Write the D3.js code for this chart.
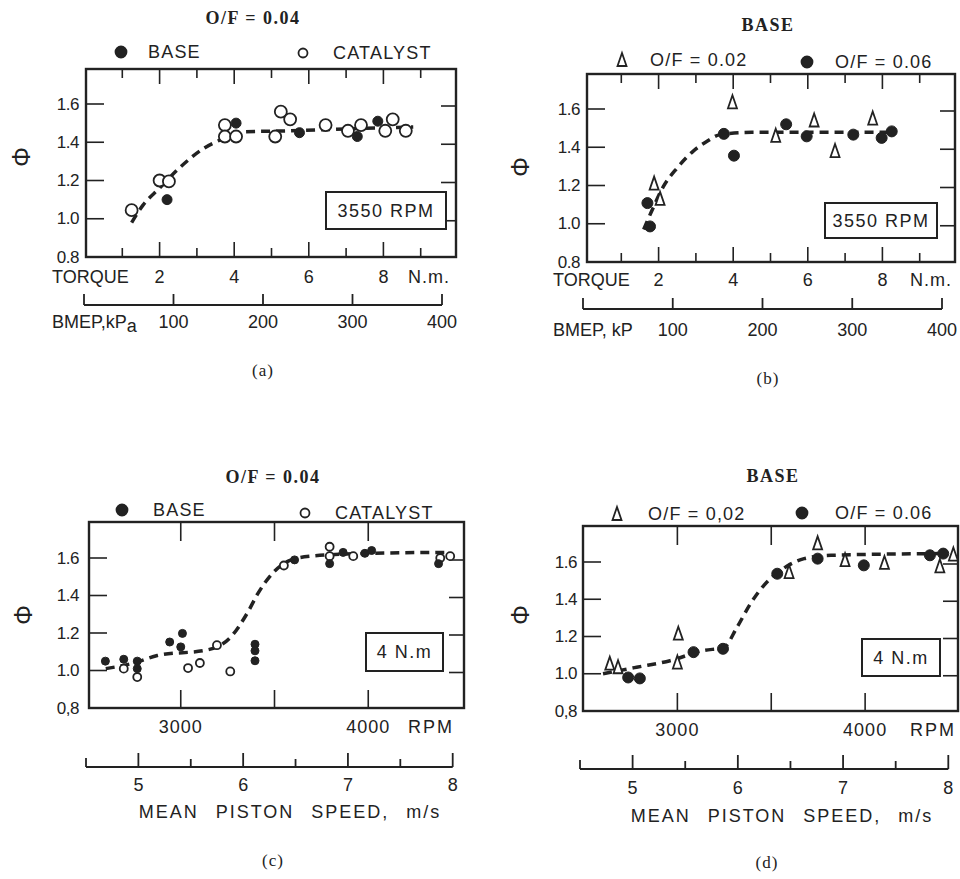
<!DOCTYPE html>
<html>
<head>
<meta charset="utf-8">
<script src="https://cdn.jsdelivr.net/npm/d3@7"></script>
<style>
  body { margin: 0; background: #fff; }
  text { font-family: "Liberation Sans", Arial, sans-serif; fill: #222; }
  .serif { font-family: "Liberation Serif", "Times New Roman", serif; }
</style>
</head>
<body>
<svg width="960" height="879"></svg>
<script>
// ---- data ----
var phiTicks = [0.8, 1.0, 1.2, 1.4, 1.6];
var phiLabelsAB = ["0.8", "1.0", "1.2", "1.4", "1.6"];
var phiLabelsCD = ["0,8", "1.0", "1.2", "1.4", "1.6"];
var torqueTicks = [1, 2, 3, 4, 5, 6, 7, 8, 9];
var torqueLabels = [2, 4, 6, 8];
var bmepTicks = [0, 100, 200, 300, 400];
var bmepLabels = [100, 200, 300, 400];
var rpmTicks = [3000, 3500, 4000];
var rpmLabels = [3000, 4000];
var speedTicks = [4.5, 5, 5.5, 6, 6.5, 7, 7.5, 8];
var speedLabels = [5, 6, 7, 8];

// (a) torque, phi at 3550 rpm, O/F = 0.04
var aBase = [[2.2, 1.10], [4.05, 1.50], [5.75, 1.45], [7.3, 1.43], [7.85, 1.51]];
var aCatalyst = [[1.25, 1.045], [2.0, 1.20], [2.25, 1.195], [3.75, 1.49], [3.75, 1.43], [4.05, 1.43],
  [5.1, 1.43], [5.25, 1.56], [5.5, 1.52], [6.45, 1.49], [7.05, 1.46], [7.4, 1.49],
  [8.05, 1.46], [8.25, 1.52], [8.6, 1.46]];
var aCurve = [[1.25, 0.98], [1.55, 1.07], [2.0, 1.16], [2.5, 1.26], [3.2, 1.37], [3.6, 1.41],
  [4.3, 1.455], [5.5, 1.46], [7.0, 1.47], [8.8, 1.48]];

// (b) torque, phi at 3550 rpm, base engine
var bOF02 = [[1.88, 1.21], [2.04, 1.13], [3.98, 1.635], [5.14, 1.46], [6.17, 1.54], [6.73, 1.38], [7.74, 1.55]];
var bOF06 = [[1.70, 1.108], [1.77, 0.986], [3.75, 1.47], [4.02, 1.356], [5.42, 1.52], [5.97, 1.457],
  [7.22, 1.466], [7.98, 1.449], [8.25, 1.483]];
var bCurve = [[1.6, 0.97], [1.8, 1.06], [2.13, 1.195], [2.49, 1.29], [2.93, 1.38], [3.29, 1.43],
  [3.65, 1.466], [4.5, 1.478], [6.0, 1.478], [7.0, 1.478], [8.3, 1.478]];

// (c) rpm, phi at 4 N.m, O/F = 0.04
var cBase = [[2598, 1.05], [2696, 1.06], [2768, 1.05], [2768, 1.01], [2941, 1.152], [3009, 1.198],
  [3000, 1.126], [3396, 1.14], [3396, 1.105], [3396, 1.052], [3607, 1.59], [3794, 1.57],
  [3866, 1.63], [3982, 1.625], [4018, 1.64], [4375, 1.57]];
var cCatalyst = [[2696, 1.01], [2768, 0.965], [3039, 1.013], [3102, 1.04], [3193, 1.135], [3264, 0.995],
  [3550, 1.56], [3794, 1.66], [3794, 1.61], [3920, 1.61], [4384, 1.60], [4437, 1.61]];
var cCurve = [[2600, 1.01], [2750, 1.04], [2875, 1.08], [3143, 1.11], [3268, 1.18], [3357, 1.31],
  [3411, 1.41], [3491, 1.52], [3589, 1.59], [3696, 1.61], [4000, 1.625], [4410, 1.63]];

// (d) rpm, phi at 4 N.m, base engine
var dOF02 = [[2640, 1.054], [2684, 1.035], [3005, 1.215], [3000, 1.06], [3595, 1.546], [3747, 1.70],
  [3893, 1.61], [4103, 1.595], [4398, 1.577], [4470, 1.64]];
var dOF06 = [[2738, 0.98], [2800, 0.975], [3086, 1.116], [3243, 1.134], [3532, 1.537], [3747, 1.618],
  [3993, 1.582], [4345, 1.636], [4416, 1.645]];
var dCurve = [[2604, 1.0], [2783, 1.035], [2961, 1.07], [3139, 1.125], [3246, 1.14], [3318, 1.25],
  [3389, 1.376], [3461, 1.475], [3550, 1.555], [3675, 1.618], [3818, 1.636], [4389, 1.645]];

var ink = "#222";
var svg = d3.select("svg");

var triPath = "M0,-7L4.5,6L-4.5,6Z";

function txt(g, x, y, s, size, anchor, cls) {
  return g.append("text")
    .attr("x", x).attr("y", y)
    .attr("dominant-baseline", "central")
    .attr("text-anchor", anchor || "middle")
    .attr("class", cls || null)
    .style("font-size", size + "px")
    .text(s);
}

function dots(g, data, x, y, kind, r) {
  if (kind == "tri") {
    g.selectAll(null).data(data).enter().append("path")
      .attr("d", triPath)
      .attr("transform", function(d) { return "translate(" + x(d[0]) + "," + y(d[1]) + ")"; })
      .attr("fill", "#fff").attr("stroke", ink).attr("stroke-width", 1.8);
  } else {
    g.selectAll(null).data(data).enter().append("circle")
      .attr("cx", function(d) { return x(d[0]); })
      .attr("cy", function(d) { return y(d[1]); })
      .attr("r", r)
      .attr("fill", kind == "open" ? "#fff" : ink)
      .attr("stroke", ink).attr("stroke-width", kind == "open" ? 1.8 : 1);
  }
}

function legendMark(g, x, y, kind) {
  if (kind == "tri") g.append("path").attr("d", triPath).attr("transform", "translate(" + x + "," + y + ")")
    .attr("fill", "none").attr("stroke", ink).attr("stroke-width", 1.8);
  else g.append("circle").attr("cx", x).attr("cy", y).attr("r", kind == "open" ? 4.5 : 5.5)
    .attr("fill", kind == "open" ? "#fff" : ink).attr("stroke", ink).attr("stroke-width", 1.8);
}

// common frame, phi axis, curve, label box
function frame(g, p, x, y) {
  g.append("rect").attr("x", p.box[0]).attr("y", p.box[1])
    .attr("width", p.box[2] - p.box[0]).attr("height", p.box[3] - p.box[1])
    .attr("fill", "none").attr("stroke", ink).attr("stroke-width", 2.4);

  phiTicks.slice(1).forEach(function(t) {
    g.append("line").attr("x1", p.box[0]).attr("x2", p.box[0] + 18)
      .attr("y1", y(t)).attr("y2", y(t)).attr("stroke", ink).attr("stroke-width", 1.6);
    g.append("line").attr("x1", p.box[2] - 15).attr("x2", p.box[2])
      .attr("y1", y(t) + 2).attr("y2", y(t) + 2).attr("stroke", ink).attr("stroke-width", 1.6);
  });
  phiTicks.forEach(function(t, i) {
    txt(g, p.ylabX, y(t), p.phiLabels[i], 17, "end").style("letter-spacing", "-0.5px");
  });

  txt(g, p.phi[0], p.phi[1], "Φ", 25).attr("transform", "rotate(90," + p.phi[0] + "," + p.phi[1] + ")");

  var line = d3.line().curve(d3.curveMonotoneX)
    .x(function(d) { return x(d[0]); }).y(function(d) { return y(d[1]); });
  g.append("path").datum(p.curve).attr("d", line)
    .attr("fill", "none").attr("stroke", ink).attr("stroke-width", 3.5)
    .attr("stroke-dasharray", "9,6");

  var b = p.label;
  g.append("rect").attr("x", b[0]).attr("y", b[1]).attr("width", b[2] - b[0]).attr("height", b[3] - b[1])
    .attr("fill", "#fff").attr("stroke", ink).attr("stroke-width", 2);
  txt(g, (b[0] + b[2]) / 2, (b[1] + b[3]) / 2, b[4], 18).style("letter-spacing", "1.5px");

  txt(g, p.title[0], p.title[1], p.title[2], 18, "middle", "serif").style("font-weight", "bold").style("letter-spacing", "1.5px");
  txt(g, p.caption[0], p.caption[1], p.caption[2], 17, "middle", "serif").style("letter-spacing", "1px");

  p.legend.forEach(function(l) {
    legendMark(g, l[0], l[1], l[2]);
    txt(g, l[3], l[1], l[4], 18, "start").style("letter-spacing", "1.2px");
  });
}

function torquePanel(p) {
  var g = svg.append("g");
  var x = d3.scaleLinear().domain([0, 10]).range(p.torqueRange);
  var y = d3.scaleLinear().domain([0.8, 1.6]).range([p.box[3], p.y16]);
  var bmep = d3.scaleLinear().domain([0, 400]).range(p.bmepRange);

  torqueTicks.forEach(function(t) {
    var len = t % 2 == 0 ? 15 : 9;
    g.append("line").attr("x1", x(t)).attr("x2", x(t)).attr("y1", p.box[1]).attr("y2", p.box[1] + len)
      .attr("stroke", ink).attr("stroke-width", 1.6);
    g.append("line").attr("x1", x(t)).attr("x2", x(t)).attr("y1", p.box[3]).attr("y2", p.box[3] - len)
      .attr("stroke", ink).attr("stroke-width", 1.6);
  });
  torqueLabels.forEach(function(t) { txt(g, x(t), p.torqueY, t, 18); });
  txt(g, p.box[0] - 34, p.torqueY, "TORQUE", 18, "start");
  txt(g, p.nmX, p.torqueY, "N.m.", 18, "start").style("letter-spacing", "1px");

  g.append("line").attr("x1", bmep(0)).attr("x2", bmep(400)).attr("y1", p.bmepY).attr("y2", p.bmepY)
    .attr("stroke", ink).attr("stroke-width", 2);
  bmepTicks.forEach(function(v) {
    g.append("line").attr("x1", bmep(v)).attr("x2", bmep(v)).attr("y1", p.bmepY).attr("y2", p.bmepY - 11)
      .attr("stroke", ink).attr("stroke-width", 1.8);
  });
  bmepLabels.forEach(function(v) { txt(g, bmep(v), p.bmepLabelY, v, 18); });
  var bl = txt(g, p.box[0] - 34, p.bmepLabelY, p.bmepName, 18, "start");
  if (p.bmepSub) bl.append("tspan").attr("dy", 4).text(p.bmepSub);

  frame(g, p, x, y);
  p.series.forEach(function(s) { dots(g, s[0], x, y, s[1], s[2]); });
}

function rpmPanel(p) {
  var g = svg.append("g");
  var x = d3.scaleLinear().domain([2500, 4500]).range(p.rpmRange);
  var y = d3.scaleLinear().domain([0.8, 1.6]).range([p.box[3], p.y16]);
  var speed = d3.scaleLinear().domain([4.5, 8]).range(p.speedRange);

  rpmTicks.forEach(function(t) {
    g.append("line").attr("x1", x(t)).attr("x2", x(t)).attr("y1", p.box[1]).attr("y2", p.box[1] + 19)
      .attr("stroke", ink).attr("stroke-width", 1.6);
    g.append("line").attr("x1", x(t)).attr("x2", x(t)).attr("y1", p.box[3]).attr("y2", p.box[3] - 18)
      .attr("stroke", ink).attr("stroke-width", 1.6);
  });
  rpmLabels.forEach(function(t) { txt(g, x(t), p.rpmY, t, 18).style("letter-spacing", "1px"); });
  txt(g, p.rpmX, p.rpmY, "RPM", 18, "start").style("letter-spacing", "2px");

  g.append("line").attr("x1", speed(4.5)).attr("x2", speed(8)).attr("y1", p.speedY).attr("y2", p.speedY)
    .attr("stroke", ink).attr("stroke-width", 2);
  speedTicks.forEach(function(v) {
    var len = v == 4.5 ? 9 : (v % 1 == 0 ? 14 : 8);
    g.append("line").attr("x1", speed(v)).attr("x2", speed(v)).attr("y1", p.speedY).attr("y2", p.speedY - len)
      .attr("stroke", ink).attr("stroke-width", 1.8);
  });
  speedLabels.forEach(function(v) { txt(g, speed(v), p.speedLabelY, v, 18); });
  txt(g, p.speedTitle[0], p.speedTitle[1], "MEAN PISTON SPEED, m/s", 18)
    .style("letter-spacing", "2px").style("word-spacing", "10px");

  frame(g, p, x, y);
  p.series.forEach(function(s) { dots(g, s[0], x, y, s[1], s[2]); });
}

torquePanel({
  box: [86, 69, 456, 257], y16: 104, ylabX: 79, phiLabels: phiLabelsAB,
  torqueRange: [85, 458], bmepRange: [84, 442],
  torqueY: 277, nmX: 408, bmepY: 305, bmepLabelY: 322, bmepName: "BMEP,kP", bmepSub: "a",
  phi: [21, 157], curve: aCurve, label: [326, 192, 446, 229, "3550 RPM"],
  title: [253, 18, "O/F = 0.04"], caption: [263, 370, "(a)"],
  legend: [[121, 52, "filled", 148, "BASE"], [303, 53, "open", 333, "CATALYST"]],
  series: [[aCatalyst, "open", 6], [aBase, "filled", 5]]
});

torquePanel({
  box: [587, 74, 955, 262], y16: 109, ylabX: 580, phiLabels: phiLabelsAB,
  torqueRange: [584, 957], bmepRange: [583, 942],
  torqueY: 280, nmX: 910, bmepY: 309, bmepLabelY: 330, bmepName: "BMEP, kP",
  phi: [520, 167], curve: bCurve, label: [825, 203, 937, 238, "3550 RPM"],
  title: [768, 25, "BASE"], caption: [768, 378, "(b)"],
  legend: [[622, 60, "tri", 650, "O/F = 0.02"], [807, 62, "filled", 835, "O/F = 0.06"]],
  series: [[bOF02, "tri"], [bOF06, "filled", 5.5]]
});

rpmPanel({
  box: [89, 522, 464, 708], y16: 558, ylabX: 79, phiLabels: phiLabelsCD,
  rpmRange: [87, 462], speedRange: [86, 452.7],
  rpmY: 727, rpmX: 408, speedY: 767, speedLabelY: 785, speedTitle: [290, 812],
  phi: [23, 615], curve: cCurve, label: [366, 633, 443, 671, "4 N.m"],
  title: [273, 477, "O/F = 0.04"], caption: [273, 860, "(c)"],
  legend: [[122, 510, "filled", 153, "BASE"], [305, 513, "open", 335, "CATALYST"]],
  series: [[cCatalyst, "open", 4], [cBase, "filled", 4]]
});

rpmPanel({
  box: [583, 526, 958, 711], y16: 562, ylabX: 577, phiLabels: phiLabelsCD,
  rpmRange: [583.5, 959], speedRange: [580, 948.3],
  rpmY: 730, rpmX: 910, speedY: 769, speedLabelY: 788, speedTitle: [782, 816],
  phi: [520, 615], curve: dCurve, label: [862, 639, 940, 676, "4 N.m"],
  title: [773, 476, "BASE"], caption: [767, 862, "(d)"],
  legend: [[617, 514, "tri", 648, "O/F = 0,02"], [802, 513, "filled", 835, "O/F = 0.06"]],
  series: [[dOF02, "tri"], [dOF06, "filled", 5.5]]
});
</script>
</body>
</html>
